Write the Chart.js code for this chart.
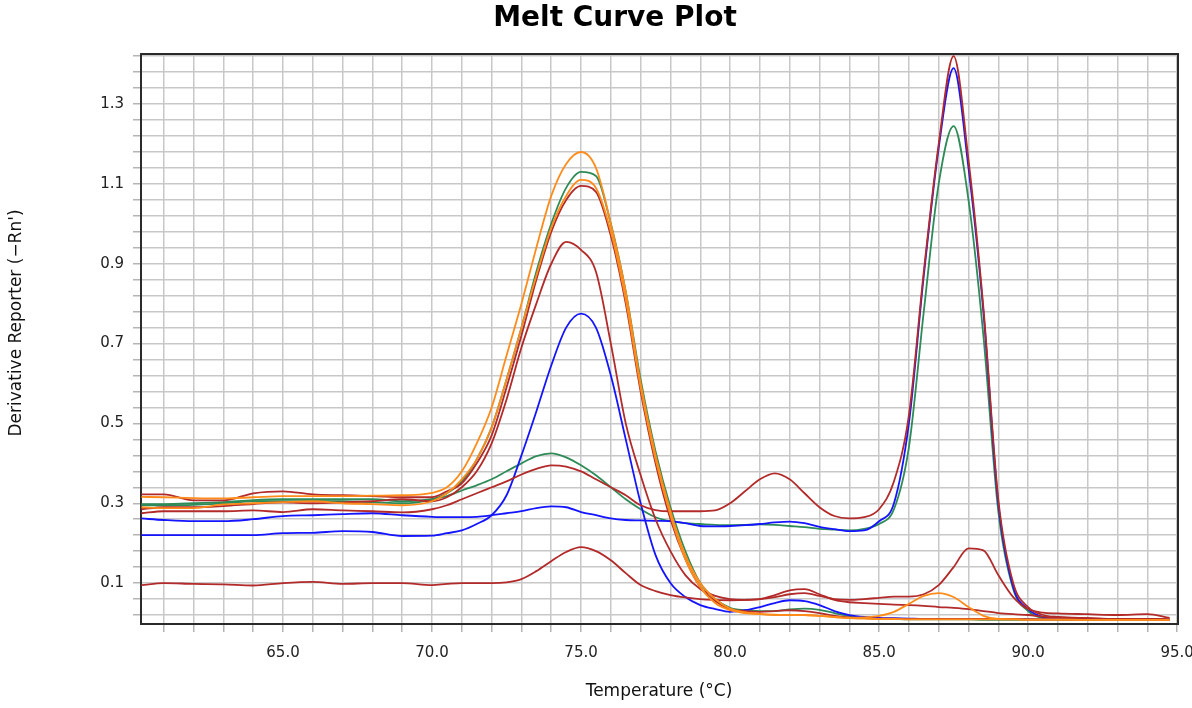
<!DOCTYPE html>
<html>
<head>
<meta charset="utf-8">
<title>Melt Curve Plot</title>
<script src="https://cdn.jsdelivr.net/npm/chart.js@4.4.0/dist/chart.umd.min.js"></script>
<style>
  html, body { margin: 0; padding: 0; background: #fff; }
  #wrap { width: 1192px; height: 708px; position: relative; }
</style>
</head>
<body>
<div id="wrap"><canvas id="meltChart"></canvas></div>
<script>
// Temperature steps (°C) shared by every well
const temps = [
  60.25, 61, 62, 63, 64, 65, 66, 67, 68, 69, 70,
  70.5, 71, 71.5, 72, 72.5, 73, 73.5, 74, 74.5, 75, 75.5, 76, 76.5, 77, 77.5, 78, 78.5, 79, 79.5, 80,
  80.5, 81, 81.5, 82, 82.5, 83, 83.5, 84, 84.5, 85, 85.5, 86, 86.5, 87, 87.5, 88, 88.5, 89, 89.5, 90, 90.5, 91,
  92, 93, 94, 94.75
];

// -Rn' per well
const orange1 = [
  0.316, 0.315, 0.313, 0.312, 0.315, 0.318, 0.318, 0.318, 0.319, 0.32, 0.326,
  0.34, 0.38, 0.45, 0.54, 0.67, 0.8, 0.94, 1.07, 1.15, 1.18, 1.14, 1.0, 0.83, 0.6, 0.42, 0.28, 0.17, 0.1, 0.06, 0.036,
  0.027, 0.023, 0.021, 0.02, 0.02, 0.018, 0.015, 0.012, 0.011, 0.01, 0.01, 0.009, 0.009, 0.009, 0.009, 0.009, 0.009, 0.009, 0.009, 0.008, 0.008, 0.008,
  0.008, 0.008, 0.008, 0.008
];
const orange2 = [
  0.29, 0.288, 0.288, 0.297, 0.3, 0.303, 0.305, 0.3, 0.298, 0.295, 0.305,
  0.325, 0.36, 0.41, 0.49, 0.61, 0.74, 0.87, 0.99, 1.07, 1.11, 1.09, 0.98, 0.81, 0.59, 0.41, 0.27, 0.16, 0.09, 0.05, 0.032,
  0.025, 0.022, 0.02, 0.02, 0.02, 0.018, 0.015, 0.013, 0.014, 0.018, 0.028, 0.048, 0.068, 0.075, 0.065, 0.04, 0.018, 0.01, 0.009, 0.009, 0.009, 0.009,
  0.008, 0.008, 0.008, 0.008
];
const red1 = [
  0.322, 0.322, 0.307, 0.307, 0.325, 0.33, 0.322, 0.32, 0.318, 0.315, 0.315,
  0.33, 0.35, 0.4, 0.47, 0.59, 0.72, 0.86, 0.98, 1.06, 1.095, 1.08, 0.97, 0.8, 0.58, 0.4, 0.26, 0.16, 0.09, 0.055, 0.035,
  0.03, 0.028, 0.03, 0.032, 0.03, 0.025, 0.018, 0.014, 0.012, 0.011, 0.011, 0.01, 0.01, 0.01, 0.01, 0.01, 0.01, 0.01, 0.01, 0.009, 0.009, 0.009,
  0.009, 0.009, 0.009, 0.008
];
const red2 = [
  0.285, 0.29, 0.29, 0.293, 0.298, 0.302, 0.3, 0.302, 0.305, 0.31, 0.305,
  0.315, 0.34, 0.38, 0.45, 0.56, 0.69, 0.8, 0.9, 0.955, 0.935, 0.88, 0.7, 0.5, 0.37, 0.26, 0.18, 0.12, 0.085, 0.068, 0.06,
  0.058, 0.06, 0.07, 0.082, 0.085, 0.072, 0.058, 0.052, 0.05, 0.048, 0.046, 0.045, 0.043, 0.04, 0.038, 0.035, 0.03, 0.025, 0.022, 0.02, 0.016, 0.014,
  0.012, 0.01, 0.01, 0.009
];
const red3 = [
  0.275, 0.28, 0.28, 0.28, 0.282, 0.278, 0.285, 0.282, 0.28, 0.277, 0.285,
  0.295, 0.31, 0.325, 0.34, 0.355, 0.372, 0.386, 0.395, 0.392, 0.38, 0.36, 0.34, 0.32, 0.295, 0.283, 0.28, 0.28, 0.28, 0.282, 0.3,
  0.33, 0.36, 0.375, 0.36, 0.325, 0.29, 0.268, 0.262, 0.265, 0.285, 0.355, 0.52, 0.88, 1.2, 1.42, 1.16, 0.79, 0.31, 0.1, 0.04, 0.02, 0.015,
  0.012, 0.01, 0.01, 0.009
];
const red4 = [
  0.095, 0.1, 0.098, 0.097, 0.094, 0.1, 0.103, 0.098, 0.1, 0.1, 0.095,
  0.098, 0.1, 0.1, 0.1, 0.102, 0.11, 0.13, 0.155, 0.178, 0.19, 0.18, 0.157, 0.125, 0.095, 0.08, 0.07, 0.064, 0.06, 0.058, 0.057,
  0.058, 0.06, 0.065, 0.072, 0.075, 0.068, 0.06, 0.058, 0.06, 0.063, 0.066, 0.066, 0.072, 0.095, 0.14, 0.187, 0.182, 0.12, 0.065, 0.035, 0.026, 0.024,
  0.022, 0.02, 0.022, 0.013
];
const blue1 = [
  0.22, 0.22, 0.22, 0.22, 0.22, 0.225, 0.226, 0.23, 0.228, 0.218, 0.219,
  0.225, 0.232, 0.248, 0.27, 0.32, 0.42, 0.53, 0.645, 0.74, 0.775, 0.74, 0.62, 0.46, 0.3, 0.17, 0.1, 0.065, 0.045, 0.035, 0.028,
  0.032, 0.04, 0.05, 0.057, 0.055, 0.045, 0.03, 0.02, 0.015, 0.013, 0.012, 0.011, 0.01, 0.01, 0.01, 0.01, 0.01, 0.01, 0.01, 0.01, 0.009, 0.009,
  0.009, 0.009, 0.009, 0.008
];
const blue2 = [
  0.262, 0.258, 0.255, 0.255, 0.26, 0.268, 0.27, 0.273, 0.275, 0.27, 0.266,
  0.265, 0.265, 0.266, 0.27, 0.275, 0.28, 0.288, 0.292, 0.29, 0.278, 0.27, 0.262, 0.258, 0.257, 0.256, 0.255, 0.25, 0.243, 0.242, 0.243,
  0.245, 0.248, 0.252, 0.254, 0.25, 0.241, 0.235, 0.23, 0.232, 0.255, 0.3, 0.5, 0.87, 1.19, 1.39, 1.14, 0.78, 0.3, 0.09, 0.035, 0.015, 0.011,
  0.01, 0.01, 0.009, 0.008
];
const green1 = [
  0.295, 0.295, 0.296, 0.3, 0.305, 0.305, 0.306, 0.305, 0.303, 0.3, 0.31,
  0.325, 0.355, 0.41, 0.49, 0.61, 0.74, 0.88, 1.0, 1.09, 1.13, 1.12, 1.0, 0.83, 0.61, 0.43, 0.29, 0.18, 0.1, 0.06, 0.038,
  0.032, 0.03, 0.03, 0.034, 0.036, 0.033, 0.025, 0.018, 0.013, 0.011, 0.01, 0.009, 0.009, 0.009, 0.009, 0.009, 0.008, 0.008, 0.008, 0.008, 0.008, 0.008,
  0.008, 0.008, 0.008, 0.008
];
const green2 = [
  0.298, 0.298, 0.3, 0.303, 0.308, 0.31, 0.31, 0.31, 0.31, 0.305, 0.31,
  0.318, 0.332, 0.345, 0.36, 0.38, 0.4, 0.418, 0.425, 0.415, 0.395, 0.37, 0.34, 0.31, 0.285, 0.265, 0.255, 0.25, 0.248, 0.246, 0.245,
  0.246, 0.247, 0.246, 0.243, 0.24, 0.236, 0.234, 0.232, 0.236, 0.248, 0.285, 0.44, 0.78, 1.1, 1.245, 1.06, 0.72, 0.28, 0.085, 0.03, 0.012, 0.009,
  0.008, 0.008, 0.008, 0.008
];

// Labelled ticks
const xTickLabels = [65, 70, 75, 80, 85, 90, 95];
const yTickLabels = [0.1, 0.3, 0.5, 0.7, 0.9, 1.1, 1.3];

const chartTitle = "Melt Curve Plot";
const xTitle = "Temperature (°C)";
const yTitle = "Derivative Reporter (\u2212Rn')";

const FONT = "'DejaVu Sans', Verdana, sans-serif";
const ORANGE = "#ff8c1a";
const RED = "#b22a2a";
const BLUE = "#1414ff";
const GREEN = "#2e8b57";

// first entry ends up on top
const wells = [
  { values: orange1, color: ORANGE },
  { values: orange2, color: ORANGE },
  { values: red1, color: RED },
  { values: red2, color: RED },
  { values: red3, color: RED },
  { values: red4, color: RED },
  { values: blue1, color: BLUE },
  { values: blue2, color: BLUE },
  { values: green1, color: GREEN },
  { values: green2, color: GREEN },
];

// minor grid every 1 °C and every 0.04
const xGrid = [];
for (let t = 61; t <= 95; t++) xGrid.push(t);
const yGrid = [];
for (let i = 0; i <= 35; i++) yGrid.push(Math.round((0.02 + 0.04 * i) * 100) / 100);

const plotFrame = {
  id: "plotFrame",
  beforeDatasetsDraw(chart) {
    const { ctx, chartArea: a } = chart;
    ctx.save();
    ctx.strokeStyle = "#2a2a2a";
    ctx.lineWidth = 2;
    ctx.strokeRect(a.left, a.top, a.right - a.left, a.bottom - a.top);
    ctx.restore();
  }
};

const plotLabels = {
  id: "plotLabels",
  afterDraw(chart) {
    const ctx = chart.ctx;
    ctx.save();
    ctx.fillStyle = "#000";
    ctx.textAlign = "center";
    ctx.textBaseline = "middle";
    ctx.font = "bold 28px " + FONT;
    ctx.fillText(chartTitle, 615, 19);
    ctx.font = "17px " + FONT;
    ctx.fillStyle = "#111";
    ctx.fillText(xTitle, 659, 692);
    ctx.translate(17, 323);
    ctx.rotate(-Math.PI / 2);
    ctx.fillText(yTitle, 0, 0);
    ctx.restore();
  }
};

new Chart(document.getElementById("meltChart"), {
  type: "line",
  data: {
    datasets: wells.map((w) => ({
      data: temps.map((t, i) => ({ x: t, y: w.values[i] })),
      borderColor: w.color,
      borderWidth: 1.8,
      pointRadius: 0,
      fill: false,
      cubicInterpolationMode: "monotone",
    })),
  },
  options: {
    responsive: true,
    maintainAspectRatio: false,
    animation: false,
    devicePixelRatio: 1,
    events: [],
    layout: { padding: { top: 54, right: 14, bottom: 0, left: 0 } },
    plugins: { legend: { display: false }, tooltip: { enabled: false } },
    scales: {
      x: {
        type: "linear",
        min: 60.235,
        max: 95.03,
        afterBuildTicks: (scale) => { scale.ticks = xGrid.map((v) => ({ value: v })); },
        afterFit: (scale) => {
          scale.height = 84;
          scale.paddingLeft = 0;
          scale.paddingRight = 0;
        },
        border: { display: false },
        grid: { color: "#c8c8c8", lineWidth: 1.5, tickLength: 8, tickColor: "#b4b4b4" },
        ticks: {
          autoSkip: false,
          maxRotation: 0,
          padding: 12,
          color: "#222",
          font: { family: FONT, size: 15 },
          callback: (v) => (xTickLabels.includes(v) ? v.toFixed(1) : ""),
        },
      },
      y: {
        min: -0.0025,
        max: 1.4255,
        afterBuildTicks: (scale) => { scale.ticks = yGrid.map((v) => ({ value: v })); },
        afterFit: (scale) => {
          scale.width = 141;
          scale.paddingTop = 0;
          scale.paddingBottom = 0;
        },
        border: { display: false },
        grid: { color: "#c8c8c8", lineWidth: 1.5, tickLength: 8, tickColor: "#b4b4b4" },
        ticks: {
          autoSkip: false,
          padding: 9,
          color: "#222",
          font: { family: FONT, size: 15 },
          callback: (v) => (yTickLabels.some((l) => Math.abs(l - v) < 1e-6) ? v.toFixed(1) : ""),
        },
      },
    },
  },
  plugins: [plotFrame, plotLabels],
});
</script>
</body>
</html>
